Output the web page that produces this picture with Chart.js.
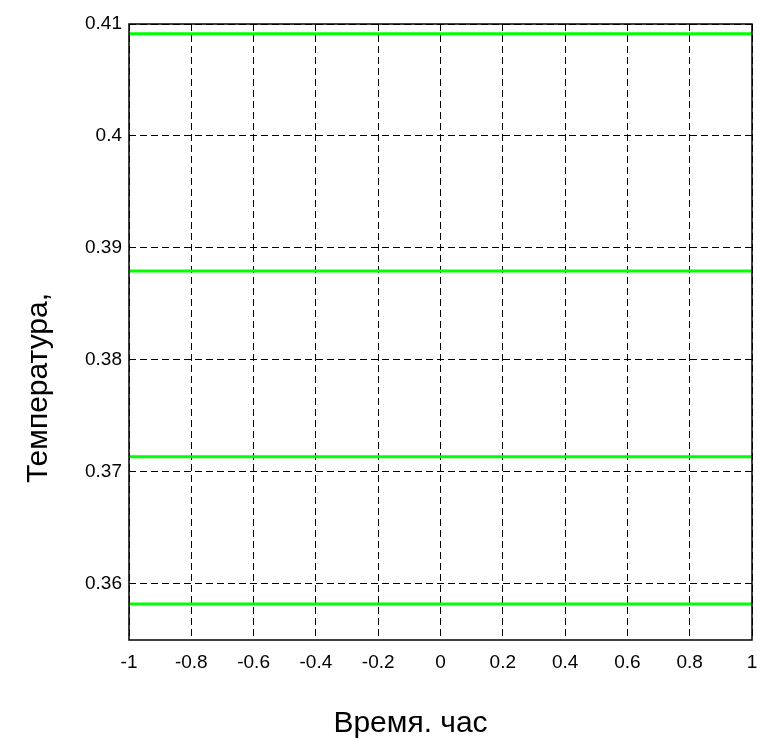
<!DOCTYPE html>
<html>
<head>
<meta charset="utf-8">
<script src="https://cdn.jsdelivr.net/npm/chart.js@4.4.0/dist/chart.umd.min.js"></script>
<style>
	body { margin: 0; background: #fff; }
	#wrap { width: 757px; height: 738px; }
</style>
</head>
<body>
<div id="wrap"><canvas id="tempChart" width="757" height="738"></canvas></div>
<script>
// values
var xRange = [-1, 1];
var levels = [0.40913, 0.38794, 0.37137, 0.35821];
var xTicks = [-1, -0.8, -0.6, -0.4, -0.2, 0, 0.2, 0.4, 0.6, 0.8, 1];
var xTickLabels = ['-1', '-0.8', '-0.6', '-0.4', '-0.2', '0', '0.2', '0.4', '0.6', '0.8', '1'];
var yTicks = [0.36, 0.37, 0.38, 0.39, 0.4, 0.41];
var yTickLabels = ['0.36', '0.37', '0.38', '0.39', '0.4', '0.41'];
var xTitle = 'Время. час';
var yTitle = 'Температура,';

var fontFamily = '"Liberation Sans", Arial, sans-serif';

var datasets = levels.map(function (v) {
	return {
		data: xRange.map(function (x) { return { x: x, y: v }; }),
		showLine: true,
		borderColor: '#00ff00',
		borderWidth: 3,
		pointRadius: 0,
		fill: false
	};
});

// box round the plot area and the two axis titles
var frameAndTitles = {
	id: 'frameAndTitles',
	afterDraw: function (chart) {
		var ctx = chart.ctx;
		var a = chart.chartArea;
		ctx.save();
		ctx.strokeStyle = '#000';
		ctx.lineWidth = 1.5;
		ctx.strokeRect(a.left, a.top, a.right - a.left, a.bottom - a.top);

		ctx.fillStyle = '#000';
		ctx.font = '30px ' + fontFamily;
		ctx.textAlign = 'center';
		ctx.textBaseline = 'alphabetic';
		ctx.fillText(xTitle, (a.left + a.right) / 2 - 30, a.bottom + 92);

		ctx.translate(a.left - 82, (a.top + a.bottom) / 2 + 56);
		ctx.rotate(-Math.PI / 2);
		ctx.fillText(yTitle, 0, 0);
		ctx.restore();
	}
};

var ctx = document.getElementById('tempChart').getContext('2d');
new Chart(ctx, {
	type: 'scatter',
	data: { datasets: datasets },
	options: {
		responsive: false,
		animation: false,
		layout: { padding: { top: 24, right: 5, left: 0, bottom: 0 } },
		plugins: {
			legend: { display: false },
			tooltip: { enabled: false }
		},
		scales: {
			x: {
				type: 'linear',
				min: xRange[0],
				max: xRange[1],
				afterBuildTicks: function (scale) {
					scale.ticks = xTicks.map(function (v) { return { value: v }; });
				},
				afterFit: function (scale) {
					scale.height = 98;
					scale.paddingLeft = 0;
					scale.paddingRight = 0;
				},
				ticks: {
					color: '#000',
					padding: 11,
					maxRotation: 0,
					font: { family: fontFamily, size: 19 },
					callback: function (value, index) { return xTickLabels[index]; }
				},
				grid: { color: '#000', lineWidth: 1, drawTicks: false },
				border: { display: false, dash: [7, 4] }
			},
			y: {
				type: 'linear',
				min: 0.355,
				max: 0.41,
				afterBuildTicks: function (scale) {
					scale.ticks = yTicks.map(function (v) { return { value: v }; });
				},
				afterFit: function (scale) {
					scale.width = 129;
					scale.paddingTop = 0;
					scale.paddingBottom = 0;
				},
				ticks: {
					color: '#000',
					padding: 7,
					font: { family: fontFamily, size: 19 },
					callback: function (value, index) { return yTickLabels[index]; }
				},
				grid: { color: '#000', lineWidth: 1, drawTicks: false },
				border: { display: false, dash: [7, 4] }
			}
		}
	},
	plugins: [frameAndTitles]
});
</script>
</body>
</html>
